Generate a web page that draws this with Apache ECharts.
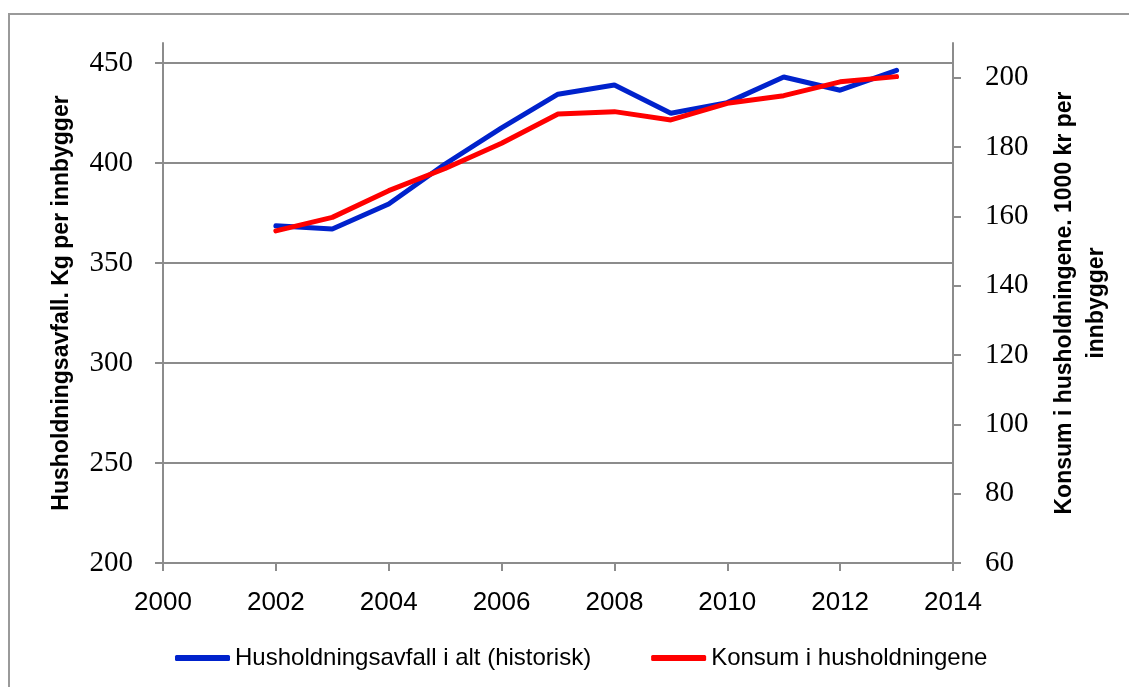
<!DOCTYPE html>
<html>
<head>
<meta charset="utf-8">
<script src="https://cdn.jsdelivr.net/npm/echarts@6.0.0/dist/echarts.min.js"></script>
<style>
  html, body { margin: 0; padding: 0; background: #fff; }
  #frame { position: absolute; left: 8px; top: 13px; width: 1121px; height: 674px;
           border-left: 2px solid #9a9a9a; border-top: 2px solid #9a9a9a; box-sizing: border-box; }
  #chart { position: absolute; left: 0; top: 0; width: 1129px; height: 687px; }
</style>
</head>
<body>
<div id="frame"></div>
<div id="chart"></div>
<script>
var years = [2002, 2003, 2004, 2005, 2006, 2007, 2008, 2009, 2010, 2011, 2012, 2013];
var avfall = [368.6, 367, 379.5, 399.5, 417.6, 434.4, 439, 424.9, 430.2, 443, 436.4, 446.3];
var konsum = [155.8, 159.7, 167.4, 173.8, 181.1, 189.5, 190.2, 187.8, 192.6, 194.8, 198.8, 200.3];
var xTicks = [2000, 2002, 2004, 2006, 2008, 2010, 2012, 2014];
var leftTicks = [200, 250, 300, 350, 400, 450];
var rightTicks = [60, 80, 100, 120, 140, 160, 180, 200];

function pairs(xs, ys) {
    return xs.map(function (x, i) { return [x, ys[i]]; });
}

var grey = '#8c8c8c';
var chart = echarts.init(document.getElementById('chart'));
var option = {
    animation: false,
    grid: { left: 163, right: 176, top: 43, bottom: 124 },
    legend: {
        left: 170,
        top: 641,
        itemGap: 60,
        itemWidth: 55,
        itemHeight: 6,
        icon: 'roundRect',
        textStyle: { fontFamily: 'Liberation Sans', fontSize: 24, color: '#000' },
        data: ['Husholdningsavfall i alt (historisk)', 'Konsum i husholdningene']
    },
    xAxis: {
        type: 'value',
        min: 2000,
        max: 2014,
        interval: 2,
        axisLine: { lineStyle: { color: grey, width: 2 } },
        axisTick: { length: 8, lineStyle: { color: grey, width: 2 } },
        splitLine: { show: false },
        axisLabel: {
            margin: 27,
            fontFamily: 'Liberation Sans',
            fontSize: 26,
            color: '#000',
            customValues: xTicks,
            formatter: function (v) { return String(v); }
        }
    },
    yAxis: [
        {
            type: 'value',
            position: 'left',
            min: 200,
            max: 460,
            interval: 50,
            name: 'Husholdningsavfall. Kg per innbygger',
            nameLocation: 'middle',
            nameRotate: 90,
            nameGap: 90,
            nameTextStyle: { fontFamily: 'Liberation Sans', fontWeight: 'bold', fontSize: 23, color: '#000' },
            axisLine: { show: true, lineStyle: { color: grey, width: 2 } },
            axisTick: { show: true, length: 8, customValues: leftTicks, lineStyle: { color: grey, width: 2 } },
            splitLine: {
                show: true,
                lineStyle: { color: [grey, grey, grey, grey, grey, grey, 'rgba(0,0,0,0)'], width: 2 }
            },
            axisLabel: {
                margin: 30,
                fontFamily: 'Liberation Serif',
                fontSize: 29,
                color: '#000',
                customValues: leftTicks
            }
        },
        {
            type: 'value',
            position: 'right',
            min: 60,
            max: 210,
            interval: 20,
            name: 'Konsum i husholdningene. 1000 kr per\ninnbygger',
            nameLocation: 'middle',
            nameRotate: 90,
            nameGap: 96,
            nameTextStyle: { fontFamily: 'Liberation Sans', fontWeight: 'bold', fontSize: 23, color: '#000', lineHeight: 32, align: 'center' },
            axisLine: { show: true, lineStyle: { color: grey, width: 2 } },
            axisTick: { show: true, length: 8, customValues: rightTicks, lineStyle: { color: grey, width: 2 } },
            splitLine: { show: false },
            axisLabel: {
                margin: 32,
                fontFamily: 'Liberation Serif',
                fontSize: 29,
                color: '#000',
                customValues: rightTicks
            }
        }
    ],
    series: [
        {
            name: 'Husholdningsavfall i alt (historisk)',
            type: 'line',
            yAxisIndex: 0,
            showSymbol: false,
            symbol: 'none',
            color: '#0022cc',
            lineStyle: { width: 5, color: '#0022cc', cap: 'round' },
            data: pairs(years, avfall)
        },
        {
            name: 'Konsum i husholdningene',
            type: 'line',
            yAxisIndex: 1,
            showSymbol: false,
            symbol: 'none',
            color: '#ff0000',
            lineStyle: { width: 5, color: '#ff0000', cap: 'round' },
            data: pairs(years, konsum)
        }
    ]
};
chart.setOption(option);
</script>
</body>
</html>
